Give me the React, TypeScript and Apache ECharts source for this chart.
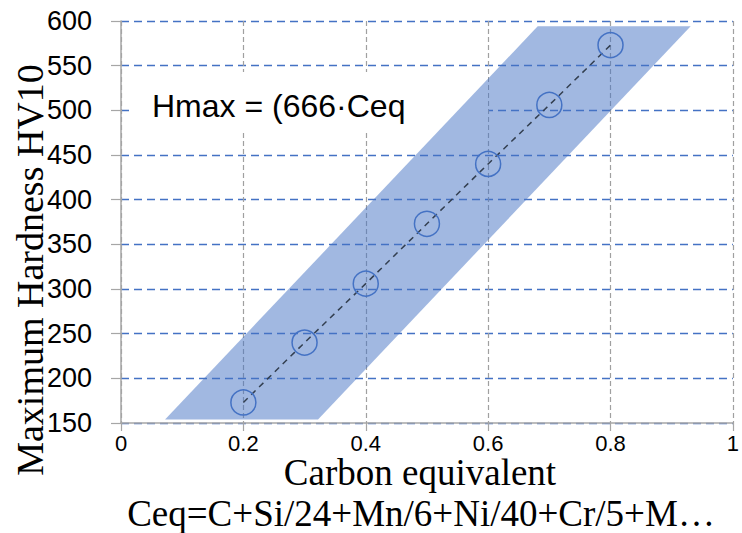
import React, { useEffect, useRef } from "react";
import * as echarts from "echarts";

const ceq = [0.2, 0.3, 0.4, 0.5, 0.6, 0.7, 0.8];
const hardness = [173, 240, 306, 373, 440, 506, 573];
const bandX = [0.072, 0.322, 0.931, 0.681];
const bandY = [154, 154, 594, 594];
const xTitle = "Carbon equivalent";
const xSubTitle = "Ceq=C+Si/24+Mn/6+Ni/40+Cr/5+M…";
const yTitle = "Maximum Hardness HV10";
const formulaText = "Hmax = (666·Ceq";

export default function App() {
  const ref = useRef<HTMLDivElement>(null);
  useEffect(() => {
    if (!ref.current) return;
    const chart = echarts.init(ref.current, undefined, { renderer: "svg" });
    const bandData = bandX.map((x, i) => [x, bandY[i]]);
    const option: any = {
      animation: false,
      backgroundColor: "#ffffff",
      grid: { left: 121, right: 5, top: 21, bottom: 110, containLabel: false },
      xAxis: {
        type: "value",
        min: 0,
        max: 1,
        interval: 0.2,
        axisLine: { show: true, lineStyle: { color: "#A6A6A6", width: 1.5 } },
        axisTick: { show: true, length: 8, lineStyle: { color: "#A6A6A6", width: 1.2 } },
        axisLabel: {
          color: "#000",
          fontSize: 22,
          fontFamily: "Liberation Sans",
          margin: 9,
          formatter: (v: number) => String(Math.round(v * 10) / 10),
        },
        splitLine: { show: true, lineStyle: { color: "#A0A0A0", type: [5, 3], width: 1.2 } },
      },
      yAxis: {
        type: "value",
        min: 150,
        max: 600,
        interval: 50,
        axisLine: { show: true, lineStyle: { color: "#A6A6A6", width: 1.5 } },
        axisTick: { show: true, length: 10, lineStyle: { color: "#A6A6A6", width: 1.2 } },
        axisLabel: { color: "#000", fontSize: 27, fontFamily: "Liberation Sans", margin: 29 },
        splitLine: { show: true, lineStyle: { color: "#4472C4", type: [8, 5], width: 1.4 } },
      },
      graphic: [
        { type: "rect", z: 1, shape: { x: 134, y: 72, width: 354, height: 60 }, style: { fill: "#ffffff" } },
        {
          type: "text",
          z: 5,
          x: 152,
          y: 106,
          style: { text: formulaText, fontSize: 32, fontFamily: "Liberation Sans", fill: "#000", textVerticalAlign: "middle", textAlign: "left" },
        },
        {
          type: "text",
          z: 5,
          x: 30,
          y: 270,
          rotation: Math.PI / 2,
          style: { text: yTitle, fontSize: 38, fontFamily: "Liberation Serif", fill: "#000", textAlign: "center", textVerticalAlign: "middle" },
        },
        {
          type: "text",
          z: 5,
          x: 420,
          y: 472,
          style: { text: xTitle, fontSize: 37, fontFamily: "Liberation Serif", fill: "#000", textAlign: "center", textVerticalAlign: "middle" },
        },
        {
          type: "text",
          z: 5,
          x: 421,
          y: 513,
          style: { text: xSubTitle, fontSize: 37, fontFamily: "Liberation Serif", fill: "#000", textAlign: "center", textVerticalAlign: "middle" },
        },
      ],
      series: [
        {
          type: "custom",
          z: 2,
          renderItem: (params: any, api: any) => {
            if (params.dataIndex !== 0) return null;
            const pts = bandData.map((d) => api.coord(d));
            return { type: "polygon", shape: { points: pts }, style: { fill: "rgba(68,114,196,0.5)" } };
          },
          data: bandData,
          encode: { x: 0, y: 1 },
          silent: true,
        },
        {
          type: "line",
          z: 3,
          data: ceq.map((x, i) => [x, hardness[i]]),
          lineStyle: { color: "#333F50", width: 1.5, type: [6, 5] },
          symbol: "circle",
          symbolSize: 25,
          itemStyle: { color: "rgba(0,0,0,0)", borderColor: "#4472C4", borderWidth: 1.5 },
        },
      ],
    };
    chart.setOption(option);
    return () => chart.dispose();
  }, []);
  return <div ref={ref} style={{ position: "absolute", left: 0, top: 0, width: 742, height: 533 }} />;
}
